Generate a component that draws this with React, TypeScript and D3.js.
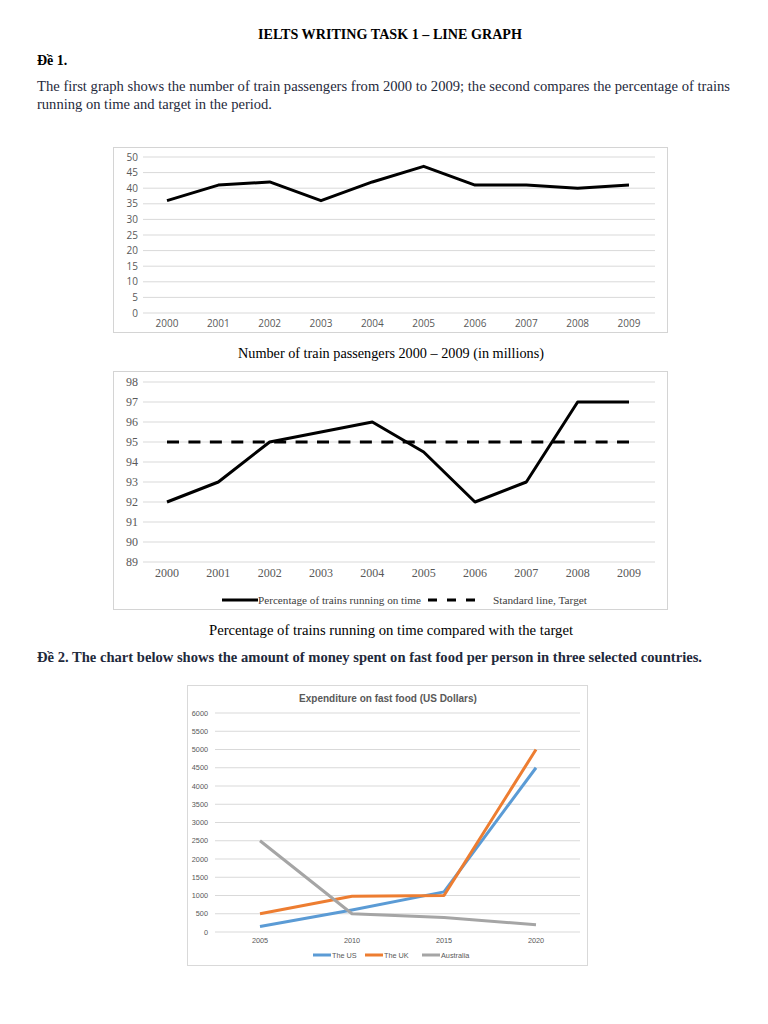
import React from "react";
import * as d3 from "d3";

// ---------- Data ----------
const years1 = ["2000", "2001", "2002", "2003", "2004", "2005", "2006", "2007", "2008", "2009"];
const passengers = [36, 41, 42, 36, 42, 47, 41, 41, 40, 41];
const passengerTicks = [0, 5, 10, 15, 20, 25, 30, 35, 40, 45, 50];

const onTime = [92, 93, 95, 95.5, 96, 94.5, 92, 93, 97, 97];
const target = [95, 95, 95, 95, 95, 95, 95, 95, 95, 95];
const pctTicks = [89, 90, 91, 92, 93, 94, 95, 96, 97, 98];

const years3 = ["2005", "2010", "2015", "2020"];
const usSpend = [150, 600, 1100, 4500];
const ukSpend = [500, 980, 1000, 5000];
const auSpend = [2500, 500, 400, 200];
const spendTicks = [0, 500, 1000, 1500, 2000, 2500, 3000, 3500, 4000, 4500, 5000, 5500, 6000];

const serif = "'Liberation Serif', 'Times New Roman', serif";
const sans = "'Liberation Sans', Arial, sans-serif";
const calibri = "'Open Sans', 'Liberation Sans', sans-serif";

function Chart1() {
  const x = d3.scalePoint<string>().domain(years1).range([167, 629]);
  const y = d3.scaleLinear().domain([0, 50]).range([313, 157]);
  const line = d3.line<number>().x((_, i) => x(years1[i])!).y((d) => y(d));
  return (
    <g>
      <rect x={113.5} y={147.5} width={554} height={185} fill="#fff" stroke="#d4d4d4" />
      {passengerTicks.map((t) => (
        <g key={t}>
          <line x1={143} x2={655} y1={y(t)} y2={y(t)} stroke="#d9d9d9" strokeWidth={1} />
          <text x={138} y={y(t)} dy="0.35em" textAnchor="end" fontFamily={calibri} fontSize={10} fill="#595959">{t}</text>
        </g>
      ))}
      {years1.map((yr) => (
        <text key={yr} x={x(yr)} y={323} dy="0.35em" textAnchor="middle" fontFamily={calibri} fontSize={10} fill="#595959">{yr}</text>
      ))}
      <path d={line(passengers)!} fill="none" stroke="#000" strokeWidth={3} strokeLinejoin="round" />
    </g>
  );
}

function Chart2() {
  const x = d3.scalePoint<string>().domain(years1).range([167, 629]);
  const y = d3.scaleLinear().domain([89, 98]).range([562, 382]);
  const line = d3.line<number>().x((_, i) => x(years1[i])!).y((d) => y(d));
  return (
    <g>
      <rect x={113.5} y={371.5} width={554} height={238} fill="#fff" stroke="#d4d4d4" />
      {pctTicks.map((t) => (
        <g key={t}>
          <line x1={143} x2={655} y1={y(t)} y2={y(t)} stroke="#d9d9d9" strokeWidth={1} />
          <text x={138} y={y(t)} dy="0.35em" textAnchor="end" fontFamily={serif} fontSize={12} fill="#595959">{t}</text>
        </g>
      ))}
      {years1.map((yr) => (
        <text key={yr} x={x(yr)} y={573} dy="0.35em" textAnchor="middle" fontFamily={serif} fontSize={12} fill="#595959">{yr}</text>
      ))}
      <path d={line(target)!} fill="none" stroke="#000" strokeWidth={3} strokeDasharray="12,9.43" />
      <path d={line(onTime)!} fill="none" stroke="#000" strokeWidth={3} strokeLinejoin="round" />
      <line x1={222} x2={258} y1={600} y2={600} stroke="#000" strokeWidth={3} />
      <text x={258} y={600} dy="0.35em" fontFamily={serif} fontSize={11} fill="#404040" textLength={163} lengthAdjust="spacingAndGlyphs">Percentage of trains running on time</text>
      <line x1={428} x2={475} y1={600} y2={600} stroke="#000" strokeWidth={3} strokeDasharray="9,10" />
      <text x={493} y={600} dy="0.35em" fontFamily={serif} fontSize={11} fill="#404040" textLength={94} lengthAdjust="spacingAndGlyphs">Standard line, Target</text>
    </g>
  );
}

function Chart3() {
  const x = d3.scalePoint<string>().domain(years3).range([260, 536]);
  const y = d3.scaleLinear().domain([0, 6000]).range([932, 713]);
  const line = d3.line<number>().x((_, i) => x(years3[i])!).y((d) => y(d));
  const series = [
    { name: "The US", values: usSpend, color: "#5b9bd5" },
    { name: "The UK", values: ukSpend, color: "#ed7d31" },
    { name: "Australia", values: auSpend, color: "#a5a5a5" },
  ];
  const legendX = [313, 365, 422];
  return (
    <g>
      <rect x={187.5} y={685.5} width={400} height={280} fill="#fff" stroke="#d9d9d9" />
      <text x={388} y={698} dy="0.35em" textAnchor="middle" fontFamily={sans} fontSize={10} fontWeight="bold" fill="#595959">Expenditure on fast food (US Dollars)</text>
      {spendTicks.map((t) => (
        <g key={t}>
          <line x1={215} x2={580} y1={y(t)} y2={y(t)} stroke="#d9d9d9" strokeWidth={1} />
          <text x={208} y={y(t)} dy="0.35em" textAnchor="end" fontFamily={sans} fontSize={7.3} fill="#595959">{t}</text>
        </g>
      ))}
      {years3.map((yr) => (
        <text key={yr} x={x(yr)} y={940} dy="0.35em" textAnchor="middle" fontFamily={sans} fontSize={7.3} fill="#595959">{yr}</text>
      ))}
      {series.map((s) => (
        <path key={s.name} d={line(s.values)!} fill="none" stroke={s.color} strokeWidth={3} strokeLinejoin="round" />
      ))}
      {series.map((s, i) => (
        <g key={s.name + "-leg"}>
          <line x1={legendX[i]} x2={legendX[i] + 18} y1={955} y2={955} stroke={s.color} strokeWidth={3} />
          <text x={legendX[i] + 19} y={955} dy="0.35em" fontFamily={sans} fontSize={7.3} fill="#595959">{s.name}</text>
        </g>
      ))}
    </g>
  );
}

export default function App() {
  return (
    <svg width={768} height={1024} style={{ position: "absolute", left: 0, top: 0, background: "#fff" }}>
      <rect width={768} height={1024} fill="#fff" />
      <text x={390} y={34} dy="0.35em" textAnchor="middle" fontFamily={serif} fontSize={14} fontWeight="bold" fill="#000" textLength={264} lengthAdjust="spacingAndGlyphs">IELTS WRITING TASK 1 – LINE GRAPH</text>
      <text x={37} y={60} dy="0.35em" fontFamily={serif} fontSize={14} fontWeight="bold" fill="#000">Đề 1.</text>
      <text x={37} y={86} dy="0.35em" fontFamily={serif} fontSize={14} fill="#1f2a3c" textLength={693} lengthAdjust="spacingAndGlyphs">The first graph shows the number of train passengers from 2000 to 2009; the second compares the percentage of trains</text>
      <text x={37} y={104} dy="0.35em" fontFamily={serif} fontSize={14} fill="#1f2a3c" textLength={235} lengthAdjust="spacingAndGlyphs">running on time and target in the period.</text>
      <Chart1 />
      <text x={391} y={353} dy="0.35em" textAnchor="middle" fontFamily={serif} fontSize={14} fill="#000" textLength={306} lengthAdjust="spacingAndGlyphs">Number of train passengers 2000 – 2009 (in millions)</text>
      <Chart2 />
      <text x={391} y={630} dy="0.35em" textAnchor="middle" fontFamily={serif} fontSize={14} fill="#000" textLength={364} lengthAdjust="spacingAndGlyphs">Percentage of trains running on time compared with the target</text>
      <text x={37} y={657} dy="0.35em" fontFamily={serif} fontSize={14} fontWeight="bold" fill="#1f2a3c" textLength={665} lengthAdjust="spacingAndGlyphs">Đề 2. The chart below shows the amount of money spent on fast food per person in three selected countries.</text>
      <Chart3 />
    </svg>
  );
}
